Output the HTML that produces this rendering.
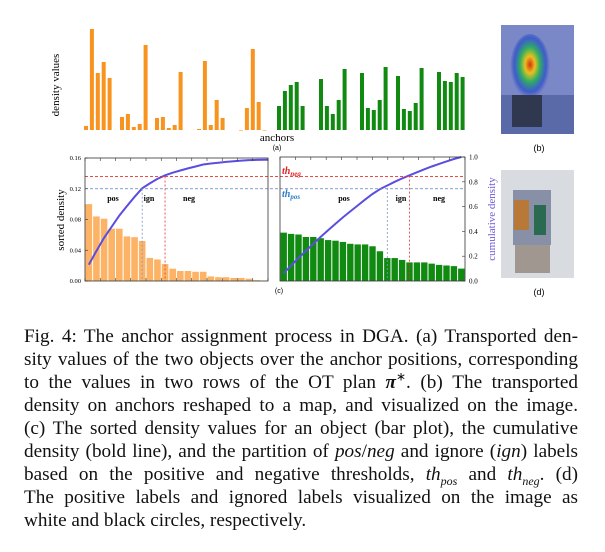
<!DOCTYPE html>
<html><head><meta charset="utf-8">
<style>
body{margin:0;width:605px;height:552px;background:#fff;overflow:hidden;position:relative;font-family:"Liberation Serif",serif}
svg{position:absolute;left:0;top:0}
.cap{position:absolute;left:24px;width:554px;height:23px;font-size:19.2px;line-height:23px;color:#111;text-align:justify;text-align-last:justify;white-space:nowrap}
.cap.last{text-align-last:left}
.cap sup,.cap sub{line-height:0;font-size:12px}
</style></head><body>
<svg id="fig" width="605" height="310" font-family="Liberation Serif, serif">
<defs>
<radialGradient id="heat" cx="0.5" cy="0.45" r="0.5">
<stop offset="0" stop-color="#d83010"/><stop offset="0.25" stop-color="#e8c020"/><stop offset="0.5" stop-color="#30b060"/><stop offset="0.8" stop-color="#3050d0" stop-opacity="0.8"/><stop offset="1" stop-color="#4050b0" stop-opacity="0"/>
</radialGradient>
</defs>
<g id="imgB">
<rect x="501" y="25" width="73" height="109" fill="#5a6aa8"/>
<rect x="501" y="25" width="73" height="70" fill="#7a88c8"/>
<ellipse cx="530" cy="68" rx="20" ry="34" fill="url(#heat)"/>
<rect x="512" y="95" width="30" height="32" fill="#303850"/>
</g>
<text x="539" y="151" font-size="9" font-family="Liberation Sans, sans-serif" text-anchor="middle">(b)</text>
<g id="imgD">
<rect x="501" y="170" width="73" height="108" fill="#d8dce0"/>
<rect x="513" y="190" width="38" height="55" fill="#8890a8"/>
<rect x="514" y="200" width="15" height="30" fill="#b87838"/>
<rect x="534" y="205" width="12" height="30" fill="#2a6a50"/>
<rect x="515" y="245" width="35" height="28" fill="#a09890"/>
</g>
<text x="539" y="295" font-size="9" font-family="Liberation Sans, sans-serif" text-anchor="middle">(d)</text>
<text transform="translate(59,85) rotate(-90)" font-size="11" text-anchor="middle">density values</text>
<text x="277" y="141" font-size="11" text-anchor="middle">anchors</text>
<text x="277" y="150" font-size="7" font-family="Liberation Sans, sans-serif" text-anchor="middle">(a)</text>
<text x="279" y="293" font-size="7" font-family="Liberation Sans, sans-serif" text-anchor="middle">(c)</text>
<text transform="translate(64,220) rotate(-90)" font-size="11" text-anchor="middle">sorted density</text>
<text transform="translate(495,219) rotate(-90)" font-size="11" fill="#6a5ad8" text-anchor="middle">cumulative density</text>
<text x="282" y="174" font-size="10" font-style="italic" font-weight="bold" fill="#e02020">th<tspan font-size="7" dy="2">neg</tspan></text>
<text x="282" y="197" font-size="10" font-style="italic" font-weight="bold" fill="#2a7ac8">th<tspan font-size="7" dy="2">pos</tspan></text>
</svg>
<script>
// (a) anchor density values
const orangeA=[4,101,57,68,52, 13,16,3,6,85, 12,13,2,5,58, 1,69,5,30,12, 0,22,81,28,0];
const greenA=[24,39,45,48,24, 51,24,16,30,61, 57,22,20,30,63, 54,21,19,27,62, 58,49,48,57,53];
// (c) sorted densities
const leftBars=[0.100,0.084,0.081,0.068,0.068,0.058,0.057,0.052,0.030,0.028,0.022,0.016,0.013,0.013,0.012,0.012,0.006,0.005,0.005,0.004,0.004,0.003,0.001,0.0005];
const rightBars=[0.39,0.38,0.375,0.355,0.355,0.345,0.33,0.325,0.315,0.30,0.295,0.295,0.28,0.24,0.185,0.185,0.17,0.15,0.15,0.15,0.14,0.13,0.125,0.12,0.10];
const leftTicks=["0.00","0.04","0.08","0.12","0.16"];
const rightTicks=["0.0","0.2","0.4","0.6","0.8","1.0"];
const thPos=0.75, thNeg=0.85;
const NS="http://www.w3.org/2000/svg";
const svg=document.getElementById('fig');
function mk(tag,attrs,parent){const e=document.createElementNS(NS,tag);for(const k in attrs)e.setAttribute(k,attrs[k]);(parent||svg).appendChild(e);return e;}

const aBase=130, aScale=1.0;
const gA=mk('g',{});


function aX(i){const g=Math.floor(i/5), k=i%5; const starts=[86,122,157,199,241]; return starts[g]+k*5.9;}
function aXg(i){const g=Math.floor(i/5), k=i%5; const starts=[279,321,362,398,439]; return starts[g]+k*5.9;}
orangeA.forEach((v,i)=>{const r=mk('rect',{x:aX(i)-2,y:aBase-v*aScale,width:4,height:Math.max(v*aScale,0.5),fill:'#f7931e'},gA);

});
greenA.forEach((v,i)=>{const r=mk('rect',{x:aXg(i)-2,y:aBase-v*aScale,width:4,height:v*aScale,fill:'#118a11'},gA);

});

const L={x0:85,x1:268,y0:281,y1:158,max:0.16};
const R={x0:280,x1:465,y0:281,y1:157};
const ly=v=>L.y0-(v/L.max)*(L.y0-L.y1);
const ry=v=>R.y0-v*(R.y0-R.y1);
const lbw=(L.x1-L.x0)/leftBars.length, rbw=(R.x1-R.x0)/rightBars.length;
const gL=mk('g',{});


leftBars.forEach((v,i)=>{const r=mk('rect',{x:L.x0+i*lbw+0.5,y:ly(v),width:lbw-1,height:L.y0-ly(v),fill:'#fdb366'},gL);

});
const gR=mk('g',{});


rightBars.forEach((v,i)=>{const r=mk('rect',{x:R.x0+i*rbw+0.5,y:ry(v),width:rbw-1,height:R.y0-ry(v),fill:'#118a11'},gR);

});
function cum(a){const s=a.reduce((p,c)=>p+c,0);let c=0;return a.map(v=>(c+=v)/s);}
const cl=cum(leftBars), cr=cum(rightBars);
let dl=cl.map((c,i)=>(i?'L':'M')+(L.x0+(i+0.5)*lbw).toFixed(1)+','+ly(c*L.max*0.985).toFixed(1)).join(' ');
dl+=' L'+L.x1+','+ly(L.max*0.985).toFixed(1);
const pl=mk('path',{d:dl,fill:'none',stroke:'#5a4ee0','stroke-width':2});


const dr=cr.map((c,i)=>(i?'L':'M')+(R.x0+(i+0.5)*rbw).toFixed(1)+','+ry(c).toFixed(1)).join(' ');
const pr=mk('path',{d:dr,fill:'none',stroke:'#5a4ee0','stroke-width':2});


function crossIdx(c,t){for(let i=0;i<c.length;i++)if(c[i]>=t)return i;return c.length-1;}
const hp=mk('line',{x1:L.x0,x2:R.x1,y1:ly(thPos*L.max),y2:ly(thPos*L.max),stroke:'#6a7ac0','stroke-width':0.8,'stroke-dasharray':'3,2'});


const hn=mk('line',{x1:L.x0,x2:R.x1,y1:ly(thNeg*L.max),y2:ly(thNeg*L.max),stroke:'#e83030','stroke-width':0.8,'stroke-dasharray':'3,2'});


const lpi=crossIdx(cl,thPos), lni=crossIdx(cl,thNeg), rpi=crossIdx(cr,thPos), rni=crossIdx(cr,thNeg);
[[L.x0+(lpi+0.5)*lbw,ly(thPos*L.max),'#8090c8'],[L.x0+(lni+0.5)*lbw,ly(thNeg*L.max),'#e83030'],[R.x0+(rpi+0.5)*rbw,ry(thPos),'#8090c8'],[R.x0+(rni+0.5)*rbw,ry(thNeg),'#e83030']].forEach(([x,y,c])=>{
const v=mk('line',{x1:x,x2:x,y1:y,y2:L.y0,stroke:c,'stroke-width':0.8,'stroke-dasharray':'2,2'});

});
[['pos',113],['ign',149],['neg',189],['pos',344],['ign',401],['neg',439]].forEach(([t,x])=>{
const e=mk('text',{x:x,y:201,'font-size':8,'font-weight':'bold','text-anchor':'middle'});e.textContent=t;

});
[[L.x0,L.y1,L.x1-L.x0,L.y0-L.y1],[R.x0,R.y1,R.x1-R.x0,R.y0-R.y1]].forEach(([x,y,w,h])=>{
const f=mk('rect',{x:x,y:y,width:w,height:h,fill:'none',stroke:'#333','stroke-width':0.8});

});
for(let i=0;i<=12;i++){mk('line',{x1:L.x0+i*15.25,x2:L.x0+i*15.25,y1:L.y1,y2:L.y1+3,stroke:'#333','stroke-width':0.6});
mk('line',{x1:R.x0+i*15.4,x2:R.x0+i*15.4,y1:R.y1,y2:R.y1+3,stroke:'#333','stroke-width':0.6});
mk('line',{x1:L.x0+i*15.25,x2:L.x0+i*15.25,y1:L.y0,y2:L.y0-3,stroke:'#333','stroke-width':0.6});}
leftTicks.forEach((t,i)=>{const v=parseFloat(t);const y=ly(v);
mk('line',{x1:L.x0,x2:L.x0+3,y1:y,y2:y,stroke:'#333','stroke-width':0.6});
const e=mk('text',{x:L.x0-4,y:y+2,'font-size':6.5,'text-anchor':'end'});e.textContent=t;

});
rightTicks.forEach((t,i)=>{const v=parseFloat(t);const y=ry(v);
mk('line',{x1:R.x1,x2:R.x1-3,y1:y,y2:y,stroke:'#333','stroke-width':0.6});
const e=mk('text',{x:R.x1+4,y:y+2.5,'font-size':7});e.textContent=t;

});
</script>
<div>
<div class="cap" style="top:325px">Fig. 4: The anchor assignment process in DGA. (a) Transported den-</div>
<div class="cap" style="top:348px">sity values of the two objects over the anchor positions, corresponding</div>
<div class="cap" style="top:371px">to the values in two rows of the OT plan <b><i>π</i></b><sup>∗</sup>. (b) The transported</div>
<div class="cap" style="top:394px">density on anchors reshaped to a map, and visualized on the image.</div>
<div class="cap" style="top:417px">(c) The sorted density values for an object (bar plot), the cumulative</div>
<div class="cap" style="top:440px">density (bold line), and the partition of <i>pos</i>/<i>neg</i> and ignore (<i>ign</i>) labels</div>
<div class="cap" style="top:463px">based on the positive and negative thresholds, <i>th<sub>pos</sub></i> and <i>th<sub>neg</sub></i>. (d)</div>
<div class="cap" style="top:486px">The positive labels and ignored labels visualized on the image as</div>
<div class="cap last" style="top:509px">white and black circles, respectively.</div>
</div>
</body></html>
